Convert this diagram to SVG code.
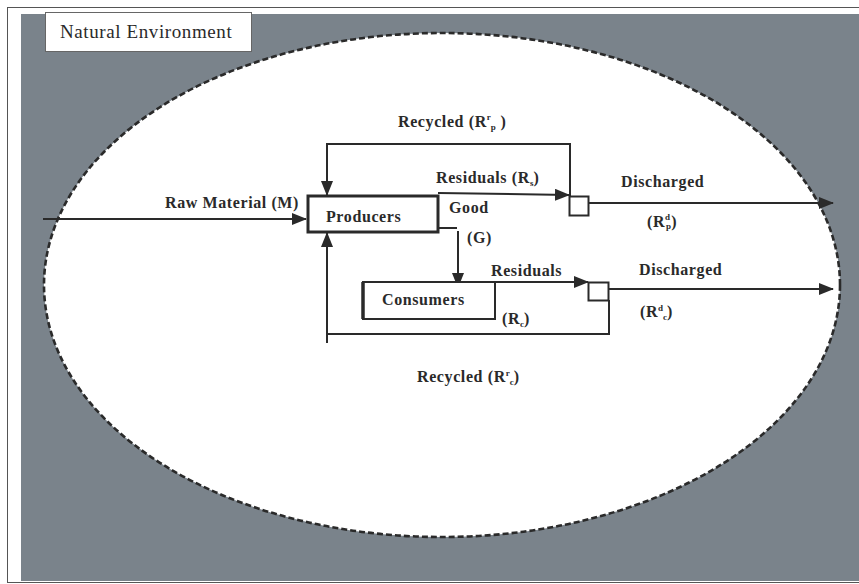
<svg xmlns="http://www.w3.org/2000/svg" width="859" height="584" viewBox="0 0 859 584">
<style>
.lbl{font-family:"Liberation Serif","Times New Roman",serif;font-weight:bold;font-size:16px;letter-spacing:0.6px;fill:#2a2a2a}
.sm{font-size:9px;letter-spacing:0}
.ln{fill:none;stroke:#2a2a2a;stroke-width:2}
.box{fill:#fff;stroke:#2a2a2a;stroke-width:2}
</style>
<defs>
<marker id="ah" markerUnits="userSpaceOnUse" markerWidth="15" markerHeight="12" refX="14" refY="6" orient="auto">
<path d="M0,0 L15,6 L0,12 Z" fill="#2a2a2a"/>
</marker>
</defs>
<rect x="0" y="0" width="859" height="584" fill="#fff"/>
<rect x="7.5" y="7.5" width="860" height="575" fill="none" stroke="#555" stroke-width="1"/>
<rect x="21" y="14" width="838" height="567" fill="#7a838b"/>
<ellipse id="boundary" cx="442" cy="285" rx="398" ry="252" fill="#fff" stroke="#2a2a2a" stroke-width="2.6" stroke-dasharray="6,3"/>
<g id="natural-environment">
<rect x="45.5" y="12.5" width="206" height="39" fill="#fff" stroke="#666" stroke-width="1"/>
<text x="60" y="38" font-family="Liberation Serif,'Times New Roman',serif" font-size="19" letter-spacing="0.6" fill="#2a2a2a">Natural Environment</text>
</g>
<g id="connectors">
<path class="ln" d="M43,219 L306,219" marker-end="url(#ah)"/>
<path class="ln" d="M570,196 L570,144 L327,144 L327,195" marker-end="url(#ah)"/>
<path class="ln" d="M438,193 L569,195" marker-end="url(#ah)"/>
<path class="ln" d="M589,203 L833,203" stroke-width="4" marker-end="url(#ah)"/>
<path class="ln" d="M438,228 L457,228"/>
<path class="ln" d="M458,231 L458,287" marker-end="url(#ah)"/>
<path class="ln" d="M495,282 L588,282" marker-end="url(#ah)"/>
<path class="ln" d="M609,289 L833,289" marker-end="url(#ah)"/>
<path class="ln" d="M609,300 L609,334 L327,334"/>
<path class="ln" d="M327,343 L327,233" marker-end="url(#ah)"/>
</g>
<g id="producers">
<rect x="308" y="196" width="130" height="36" fill="#fff" stroke="#2a2a2a" stroke-width="3"/>
<text class="lbl" x="326" y="222">Producers</text>
</g>
<g id="consumers">
<rect class="box" x="363" y="282" width="132" height="37"/>
<line x1="363" y1="282" x2="363" y2="319" stroke="#2a2a2a" stroke-width="3.5"/>
<text class="lbl" x="382" y="305">Consumers</text>
</g>
<g id="split-producers">
<rect class="box" x="569.5" y="196.5" width="19" height="19" stroke-width="1.5"/>
</g>
<g id="split-consumers">
<rect class="box" x="588.5" y="282.5" width="20" height="18" stroke-width="1.5"/>
</g>
<g id="labels">
<text class="lbl" x="398" y="127">Recycled (R<tspan class="sm" dy="-7">r</tspan><tspan class="sm" dy="10">p</tspan><tspan dy="-3"> )</tspan></text>
<text class="lbl" x="436" y="183">Residuals (R<tspan class="sm" font-size="6" dy="3">s</tspan><tspan dy="-3">)</tspan></text>
<text class="lbl" x="449" y="213">Good</text>
<text class="lbl" x="467" y="243">(G)</text>
<text class="lbl" x="621" y="187">Discharged</text>
<text class="lbl" x="647" y="227">(R<tspan class="sm" font-size="7" dy="-7">d</tspan><tspan class="sm" font-size="6" dx="-4" dy="9">p</tspan><tspan dy="-2">)</tspan></text>
<text class="lbl" x="165" y="208">Raw Material (M)</text>
<text class="lbl" x="491" y="276">Residuals</text>
<text class="lbl" x="502" y="324">(R<tspan class="sm" font-size="6" dy="3">c</tspan><tspan dy="-3">)</tspan></text>
<text class="lbl" x="639" y="275">Discharged</text>
<text class="lbl" x="640" y="317">(R<tspan class="sm" dy="-6">d</tspan><tspan class="sm" dy="9">c</tspan><tspan dy="-3">)</tspan></text>
<text class="lbl" x="417" y="382">Recycled (R<tspan class="sm" dy="-6">r</tspan><tspan class="sm" dy="9">c</tspan><tspan dy="-3">)</tspan></text>
</g>
</svg>
